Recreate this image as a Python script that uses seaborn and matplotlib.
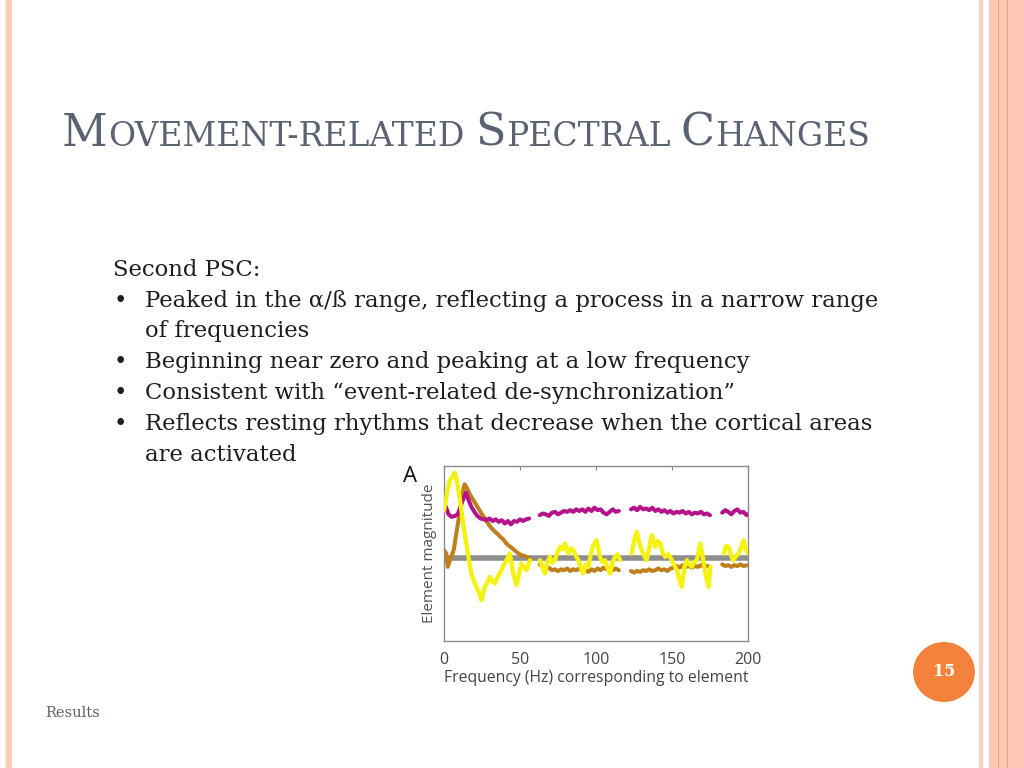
import numpy as np
import pandas as pd
import matplotlib
matplotlib.use('Agg')
import matplotlib.pyplot as plt
import seaborn as sns
from matplotlib.patches import Rectangle, Ellipse

nan = np.nan

# Values (Hz vs. element magnitude, arbitrary units)
# NaN marks the gaps around the 60/120/180 Hz line-noise bands
magenta_hz = [1, 3, 5, 7, 9, 11, 13, 14.5, 16, 18, 20, 22, 24, 26, 28, 30, 32, 34, 36, 38,
              40, 42, 44, 46, 48, 50, 52, 54, 56, nan,
              63, 65, 67, 69, 71, 73, 75, 77, 79, 81, 83, 85, 87, 89, 91, 93, 95, 97, 99,
              101, 103, 105, 107, 109, 111, 113, 115, nan,
              123, 125, 127, 129, 131, 133, 135, 137, 139, 141, 143, 145, 147, 149, 151,
              153, 155, 157, 159, 161, 163, 165, 167, 169, 171, 173, 175, nan,
              183, 185, 187, 189, 191, 193, 195, 197, 199, 200]
magenta_val = [0.62, 0.52, 0.49, 0.50, 0.52, 0.62, 0.72, 0.78, 0.70, 0.61, 0.55, 0.50, 0.47,
               0.46, 0.45, 0.47, 0.44, 0.46, 0.43, 0.45, 0.41, 0.44, 0.40, 0.44, 0.43, 0.46,
               0.44, 0.46, 0.47, nan,
               0.51, 0.53, 0.52, 0.50, 0.54, 0.55, 0.52, 0.54, 0.56, 0.55, 0.57, 0.55, 0.58,
               0.56, 0.58, 0.55, 0.59, 0.56, 0.60, 0.57, 0.58, 0.54, 0.52, 0.55, 0.58, 0.55,
               0.56, nan,
               0.58, 0.60, 0.57, 0.61, 0.58, 0.59, 0.57, 0.60, 0.56, 0.58, 0.55, 0.57, 0.54,
               0.56, 0.53, 0.55, 0.54, 0.56, 0.53, 0.55, 0.52, 0.54, 0.53, 0.55, 0.52, 0.53,
               0.51, nan,
               0.54, 0.57, 0.55, 0.52, 0.56, 0.58, 0.54, 0.55, 0.51, 0.52]

brown_hz = [0, 1.5, 2.5, 3.5, 5, 6.5, 8, 9.5, 11, 12.5, 13.5, 15, 17, 19, 21, 23, 25, 27, 29,
            31, 33, 35, 37, 39, 41, 43, 45, 47, 49, 51, 53, 55, 57, nan,
            63, 65, 67, 69, 71, 73, 75, 77, 79, 81, 83, 85, 87, 89, 91, 93, 95, 97, 99,
            101, 103, 105, 107, 109, 111, 113, 115, nan,
            123, 125, 127, 129, 131, 133, 135, 137, 139, 141, 143, 145, 147, 149, 151,
            153, 155, 157, 159, 161, 163, 165, 167, 169, 171, 173, 175, nan,
            183, 185, 187, 189, 191, 193, 195, 197, 200]
brown_val = [0.09, 0.05, -0.11, -0.05, 0.02, 0.10, 0.28, 0.45, 0.62, 0.80, 0.88, 0.84, 0.76,
             0.70, 0.64, 0.58, 0.52, 0.47, 0.41, 0.36, 0.32, 0.29, 0.25, 0.22, 0.17, 0.14,
             0.11, 0.08, 0.05, 0.03, 0.02, 0.00, -0.02, nan,
             -0.08, -0.11, -0.13, -0.12, -0.15, -0.14, -0.16, -0.14, -0.15, -0.13, -0.16,
             -0.14, -0.15, -0.13, -0.16, -0.15, -0.17, -0.14, -0.16, -0.13, -0.15, -0.12,
             -0.14, -0.13, -0.15, -0.13, -0.15, nan,
             -0.16, -0.18, -0.16, -0.17, -0.15, -0.16, -0.14, -0.16, -0.15, -0.13, -0.15,
             -0.14, -0.16, -0.13, -0.12, -0.10, -0.12, -0.09, -0.11, -0.10, -0.12, -0.10,
             -0.11, -0.09, -0.11, -0.10, -0.11, nan,
             -0.08, -0.10, -0.09, -0.11, -0.09, -0.10, -0.08, -0.10, -0.09]

yellow_hz = [0, 2, 3.7, 5.5, 7, 8.2, 9.2, 10.3, 11.4, 13, 14.7, 16.3, 18, 19.6, 21.3, 23, 24.6,
             25.7, 26.8, 28.5, 30.1, 31.7, 33.4, 35.6, 37.8, 39.5, 41.1, 43.3, 45.5, 47.7,
             49.3, 51, 52.6, 54.3, 56.5, nan,
             63.1, 64.8, 66.4, 68, 69.7, 71.3, 73, 74.6, 76.3, 78, 79.6, 81.8, 83.5, 85.1,
             86.8, 88.4, 90, 91.6, 93.3, 95, 96.6, 98.3, 100.4, 102.6, 104.2, 105.9, 107.5,
             109.2, 110.8, 112.5, 114.1, 115.8, nan,
             123.5, 125.1, 126.8, 128.4, 130.1, 131.7, 133.4, 135, 136.7, 138.9, 140.5,
             142.2, 143.8, 145.5, 147.7, 149.9, 151.5, 153.2, 154.8, 156.5, 158.1, 159.8,
             161.4, 163.1, 164.7, 166.4, 168.6, 170.2, 171.9, 174.1, 175.2, nan,
             184, 185.6, 187.3, 188.9, 190.5, 192.2, 193.8, 195.5, 197.1, 198.6, 200]
yellow_val = [0.57, 0.78, 0.92, 0.97, 1.02, 0.95, 0.84, 0.72, 0.57, 0.36, 0.17, -0.02, -0.19,
              -0.28, -0.35, -0.42, -0.51, -0.43, -0.35, -0.30, -0.23, -0.28, -0.31, -0.22,
              -0.15, -0.08, -0.03, 0.05, -0.19, -0.33, -0.20, -0.07, -0.12, -0.15, -0.03, nan,
              -0.03, -0.12, -0.19, -0.05, 0.01, -0.06, -0.03, 0.06, 0.13, 0.10, 0.17, 0.05,
              0.11, 0.09, 0.02, -0.03, -0.12, -0.19, -0.08, -0.11, 0.04, 0.15, 0.21, 0.01,
              -0.05, -0.03, -0.12, -0.19, -0.06, 0.01, 0.04, -0.03, nan,
              0.05, 0.20, 0.31, 0.18, 0.09, 0.02, -0.03, 0.12, 0.27, 0.13, 0.20, 0.17, 0.06,
              0.01, 0.04, -0.03, -0.09, -0.15, -0.25, -0.35, -0.12, -0.03, -0.08, -0.11,
              -0.05, -0.03, 0.17, 0.02, -0.19, -0.35, -0.11, nan,
              0.05, 0.14, 0.13, 0.02, -0.03, 0.02, 0.05, 0.12, 0.21, 0.10, 0.05]

baseline_hz = [2, 200]
baseline_val = [0, 0]


def to_frame(hz, val):
    d = pd.DataFrame({'hz': hz, 'val': val})
    d['seg'] = d['val'].isna().cumsum()
    return d.dropna()


sns.set_style('white')
plt.rcParams['font.family'] = ['Open Sans', 'DejaVu Sans']

fig = plt.figure(figsize=(10.24, 7.68), dpi=100)
W, H = 1024, 768


def band(x0, x1, color):
    fig.patches.append(Rectangle((x0 / W, 0), (x1 - x0) / W, 1, transform=fig.transFigure,
                                 facecolor=color, edgecolor='none', zorder=0))


# slide decoration
band(5, 6, '#FBEBDD')
band(6, 12, '#FCCBB9')
band(979, 983, '#FBCFBF')
band(989, 1024, '#FCC8B3')
band(997.5, 998.5, '#E4A285')
band(1006.5, 1007.5, '#E4A285')

serif = ['DejaVu Serif']
title_col = '#5A6372'

# small caps title drawn piece by piece
pieces = [('M', 32), ('OVEMENT-RELATED', 23.8), (' ', 23.8), ('S', 32), ('PECTRAL', 23.8),
          (' ', 23.8), ('C', 32), ('HANGES', 23.8)]
renderer = fig.canvas.get_renderer()
x = 62
for s, size in pieces:
    if s == ' ':
        x += size * 0.42
        continue
    t = fig.text(x / W, 1 - 146 / H, s, fontsize=size, family=serif, color=title_col,
                 va='baseline', ha='left')
    bb = t.get_window_extent(renderer)
    x += bb.width + 0.5

body_col = '#1E1E1E'
body_size = 16.4
fig.text(113 / W, 1 - 270 / H, 'Second PSC:', fontsize=body_size, family=serif,
         color=body_col, va='center')
bullets = [
    (301, True, 'Peaked in the \u03b1/\u00df range, reflecting a process in a narrow range'),
    (331, False, 'of frequencies'),
    (362, True, 'Beginning near zero and peaking at a low frequency'),
    (393, True, 'Consistent with \u201cevent-related de-synchronization\u201d'),
    (424, True, 'Reflects resting rhythms that decrease when the cortical areas'),
    (455, False, 'are activated'),
]
for yy, has_dot, line in bullets:
    if has_dot:
        fig.text(114 / W, 1 - yy / H, '\u2022', fontsize=body_size, family=serif,
                 color=body_col, va='center')
    fig.text(145 / W, 1 - yy / H, line, fontsize=body_size, family=serif,
             color=body_col, va='center')

fig.text(45 / W, 1 - 713 / H, 'Results', fontsize=10.5, family=serif, color=title_col,
         va='center')

fig.patches.append(Ellipse((944 / W, 1 - 672 / H), 62 / W, 60 / H, transform=fig.transFigure,
                           facecolor='#F5823A', edgecolor='none', zorder=1))
fig.text(944 / W, 1 - 672 / H, '15', fontsize=11.5, family=serif, color='white',
         fontweight='bold', ha='center', va='center', zorder=2)

# the chart
ax = fig.add_axes([444 / W, 1 - 641 / H, 304 / W, 175 / H])
sns.lineplot(data=to_frame(baseline_hz, baseline_val), x='hz', y='val', units='seg',
             estimator=None, color='#8E8E8E', lw=4.0, ax=ax, zorder=1)
sns.lineplot(data=to_frame(brown_hz, brown_val), x='hz', y='val', units='seg',
             estimator=None, color='#BF7F1C', lw=2.9, ax=ax, zorder=2)
sns.lineplot(data=to_frame(magenta_hz, magenta_val), x='hz', y='val', units='seg',
             estimator=None, color='#B4138C', lw=2.9, ax=ax, zorder=3)
sns.lineplot(data=to_frame(yellow_hz, yellow_val), x='hz', y='val', units='seg',
             estimator=None, color='#F4F20E', lw=3.1, ax=ax, zorder=4)

ax.set_xlim(0, 200)
ax.set_ylim(-1.0, 1.10)
ax.set_xticks([0, 50, 100, 150, 200])
ax.set_yticks([])
ax.tick_params(axis='x', direction='in', top=True, length=3, width=0.8, color='#8A8A8A',
               labelsize=11.5, labelcolor='#444444', pad=8)
for sp in ax.spines.values():
    sp.set_visible(True)
    sp.set_color('#8A8A8A')
    sp.set_linewidth(1.0)
ax.set_xlabel('Frequency (Hz) corresponding to element', fontsize=11.3, color='#444444',
              labelpad=1)
ax.set_ylabel('Element magnitude', fontsize=11, color='#555555', labelpad=5)
fig.text(410 / W, 1 - 477 / H, 'A', fontsize=16, color='#111111', ha='center', va='center')

fig.savefig('out.png', dpi=100, facecolor='white')
